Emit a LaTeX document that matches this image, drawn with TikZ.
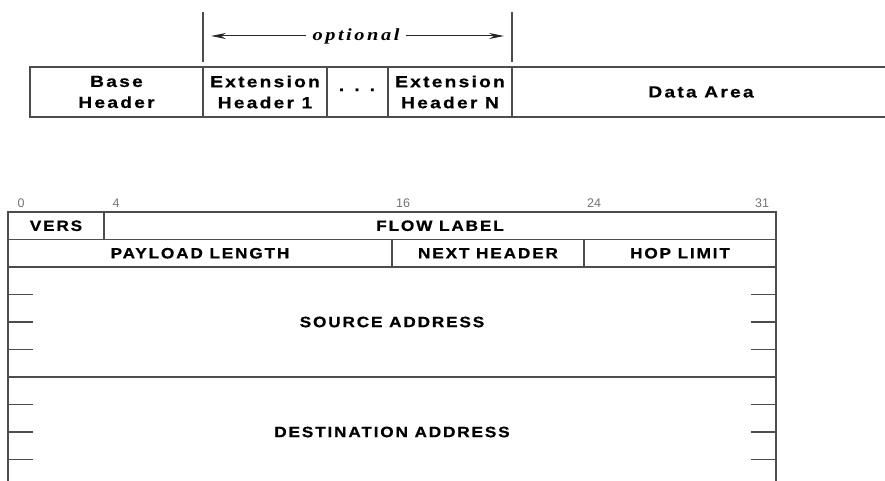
\documentclass[tikz,border=0pt]{standalone}
\usepackage{fontspec}
\setmainfont{Liberation Sans}
\newfontfamily\topfont[LetterSpace=14,FakeStretch=1.2,FakeBold=0.6]{Liberation Sans}
\newfontfamily\boxfont[LetterSpace=12,FakeStretch=1.15,FakeBold=0.6]{Liberation Sans}
\newfontfamily\optfont[LetterSpace=15,FakeStretch=1.2]{Liberation Serif}
\usetikzlibrary{arrows.meta}

\begin{document}
\begin{tikzpicture}[x=1pt, y=-1pt]

\useasboundingbox (0,0) rectangle (885,481);
\clip (0,0) rectangle (885,481);

% Define styles for the fields and the small marks
\tikzstyle{field} = [rectangle, draw=black!70, line width=1.5pt, inner sep=0pt, outer sep=0pt, anchor=north west, align=center, font=\boxfont\bfseries\fontsize{15}{21}\selectfont]
\tikzstyle{topfield} = [field, font=\topfont\bfseries\fontsize{16}{21}\selectfont]
\tikzstyle{bitno} = [text=black!55, inner sep=0pt, font=\fontsize{12.5}{14}\selectfont]
\tikzstyle{bar} = [draw=black!70, line width=1.8pt]
\tikzstyle{tick} = [draw=black!70, line width=1.5pt]
\tikzstyle{arw} = [draw=black!85, line width=1pt, -{Stealth[length=15pt,width=6pt]}]

% Packet layout with optional extension headers
\node[topfield, minimum width=173, minimum height=50] (base) at (30,67) {Base\\Header};
\node[topfield, minimum width=124, minimum height=50] (ext1) at (base.north east) {Extension\\Header 1};
\node[topfield, minimum width=61, minimum height=50] (dots) at (ext1.north east) {·\hspace{9pt}·\hspace{9pt}·};
\node[topfield, minimum width=124, minimum height=50] (extn) at (dots.north east) {Extension\\Header N};
\node[topfield, minimum width=378, minimum height=50] (data) at (extn.north east) {Data Area};

% Bracket marking the optional part
\coordinate (barl) at (203,12);
\coordinate (barr) at (512,12);
\draw[bar] (barl) -- ([yshift=5pt]ext1.north west);
\draw[bar] (barr) -- ([yshift=5pt]data.north west);
\node[inner xsep=6pt, font=\optfont\bfseries\itshape\fontsize{17}{20}\selectfont] (optional) at (356,36) {optional};
\draw[arw, shorten >=8pt] (optional.west) -- (optional.west -| barl);
\draw[arw, shorten >=8pt] (optional.east) -- (optional.east -| barr);

% Base header fields
\node[field, minimum width=96, minimum height=27.5] (vers) at (8,212) {VERS};
\node[field, minimum width=672, minimum height=27.5] (flow) at (vers.north east) {FLOW LABEL};
\node[field, minimum width=384, minimum height=27.5] (payload) at (vers.south west) {PAYLOAD LENGTH};
\node[field, minimum width=192, minimum height=27.5] (next) at (payload.north east) {NEXT HEADER};
\node[field, minimum width=192, minimum height=27.5] (hop) at (next.north east) {HOP LIMIT};
\node[field, minimum width=768, minimum height=110] (src) at (payload.south west) {SOURCE ADDRESS};
\node[field, minimum width=768, minimum height=110] (dst) at (src.south west) {DESTINATION ADDRESS};

% Row marks inside the addresses
\foreach \k in {1,2,3}{
  \draw[tick] ([yshift=-\k*27.5pt]src.north west) -- ++(25,0);
  \draw[tick] ([yshift=-\k*27.5pt]src.north east) -- ++(-25,0);
  \draw[tick] ([yshift=-\k*27.5pt]dst.north west) -- ++(25,0);
  \draw[tick] ([yshift=-\k*27.5pt]dst.north east) -- ++(-25,0);
}

% Bit positions
\node[bitno] (b0) at (21,203) {0};
\node[bitno] (b4) at (116,203) {4};
\node[bitno] (b16) at (403,203) {16};
\node[bitno] (b24) at (594,203) {24};
\node[bitno] (b31) at (762,203) {31};

\end{tikzpicture}
\end{document}
